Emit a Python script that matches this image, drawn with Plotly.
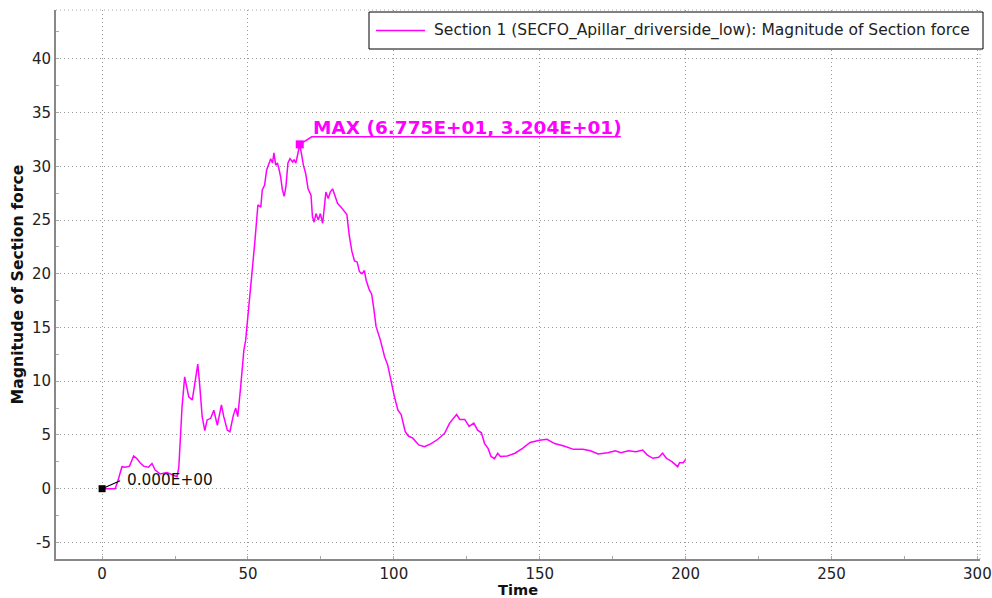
import plotly.graph_objects as go

# ---- data ----
time = [0, 4.5, 5.5, 6.8, 7.9, 9.4, 10.8, 11.9, 13.1, 14.2, 15.9, 17.1, 18.2, 19.95, 22.2,
        24.0, 25.7, 26.3, 27.4, 28.3, 29.1, 29.7, 30.9, 32.0, 32.8, 33.5, 34.3, 35.2, 36.0,
        37.2, 38.3, 39.5, 40.9, 41.7, 42.9, 43.8, 45.0, 45.8, 46.5, 47.5, 48.6, 49.2, 50.3,
        51.5, 52.3, 53.4, 54.4, 54.9, 55.7, 56.4, 57.2, 57.8, 58.4, 58.9, 59.5, 60.1, 60.7,
        61.2, 61.8, 62.4, 63.0, 63.7, 64.4, 65.3, 65.8, 66.4, 67.0, 67.75, 68.3, 69.0, 69.8,
        70.6, 71.6, 72.1, 72.7, 73.3, 74.1, 74.8, 75.6, 76.1, 76.7, 77.5, 78.2, 79.0, 79.8,
        80.7, 81.9, 83.0, 83.9, 84.7, 85.6, 86.5, 87.4, 88.2, 89.1, 89.9, 90.5, 91.6, 92.4,
        93.1, 93.9, 95.4, 96.8, 97.9, 99.1, 100.2, 101.4, 102.5, 103.9, 105.0, 106.5, 108.5,
        110.5, 112.8, 115.1, 117.4, 119.1, 120.2, 121.5, 122.6, 124.3, 125.8, 127.4, 128.7,
        130.0, 131.1, 132.3, 133.3, 134.5, 135.6, 136.5, 138.9, 141.5, 144.1, 146.7, 149.9,
        152.5, 155.1, 158.3, 161.6, 164.8, 167.4, 170.0, 173.3, 175.9, 177.8, 180.4, 183.0,
        185.3, 186.9, 188.8, 190.8, 192.1, 193.4, 195.3, 197.3, 197.9, 199.2, 200.0]
force = [0.0, 0.0, 0.8, 2.05, 2.0, 2.1, 3.04, 2.8, 2.4, 2.1, 2.0, 2.35, 1.74, 1.37, 1.5,
         1.27, 1.12, 2.0, 7.6, 10.4, 9.5, 8.55, 8.25, 10.4, 11.6, 9.5, 6.7, 5.4, 6.4,
         6.55, 7.3, 5.9, 7.8, 6.7, 5.45, 5.3, 6.85, 7.5, 6.7, 9.5, 12.9, 13.8, 16.8,
         20.0, 22.8, 26.4, 26.2, 27.8, 28.25, 29.65, 30.3, 30.7, 30.3, 31.25, 30.1, 30.3, 29.65,
         29.0, 27.8, 27.2, 28.1, 30.3, 30.7, 30.4, 30.6, 30.3, 31.05, 32.04, 31.2, 30.1, 29.3,
         27.9, 27.3, 25.3, 24.8, 25.6, 25.0, 25.6, 24.7, 26.2, 27.6, 27.0, 27.6, 27.9, 27.2,
         26.55, 26.2, 25.8, 25.5, 23.6, 22.1, 21.2, 21.1, 20.2, 20.0, 20.3, 19.4, 18.5, 18.1,
         16.8, 15.1, 13.8, 12.3, 11.5, 9.8, 8.55, 7.3, 6.9, 5.3, 4.9, 4.7, 4.07,
         3.9, 4.2, 4.6, 5.15, 6.1, 6.5, 6.9, 6.45, 6.45, 5.8, 6.1, 5.45,
         5.2, 4.2, 3.75, 3.0, 2.8, 3.3, 3.0, 3.05, 3.3, 3.75, 4.3, 4.5,
         4.6, 4.2, 3.97, 3.66, 3.66, 3.53, 3.23, 3.35, 3.53, 3.35, 3.53, 3.44,
         3.6, 3.13, 2.83, 2.92, 3.3, 2.83, 2.51, 2.05, 2.42, 2.42, 2.73]

series_name = "Section 1 (SECFO_Apillar_driverside_low): Magnitude of Section force"
x_title = "Time"
y_title = "Magnitude of Section force"
x_ticks = [0, 50, 100, 150, 200, 250, 300]
x_tick_labels = ["0", "50", "100", "150", "200", "250", "300"]
y_ticks = [-5, 0, 5, 10, 15, 20, 25, 30, 35, 40]
y_tick_labels = ["-5", "0", "5", "10", "15", "20", "25", "30", "35", "40"]

MAGENTA = "#ff00ff"
FONT = "DejaVu Sans"

# page / plot-area geometry (pixels)
W, H = 992, 598
ML, MR, MT, MB = 56, 12, 10, 39
PW, PH = W - ML - MR, H - MT - MB


def px_x(px):
    return (px - ML) / PW


def px_y(py):
    return (H - MB - py) / PH


imax = max(range(len(force)), key=lambda i: force[i])
t_max, f_max = time[imax], force[imax]
t0, f0 = time[0], force[0]

fig = go.Figure()
fig.add_trace(go.Scatter(x=time, y=force, mode="lines", name=series_name, showlegend=False,
                         line=dict(color=MAGENTA, width=1.5)))
fig.add_trace(go.Scatter(x=[t_max], y=[f_max], mode="markers", showlegend=False,
                         marker=dict(symbol="square", size=8, color=MAGENTA)))
fig.add_trace(go.Scatter(x=[t0], y=[f0], mode="markers", showlegend=False,
                         marker=dict(symbol="square", size=7, color="black")))

# leader lines anchored at the data points (pixel offsets)
fig.add_shape(type="path", xref="x", yref="y", xsizemode="pixel", ysizemode="pixel",
              xanchor=t_max, yanchor=f_max, path="M0,0 L12,7.5 L321,7.5",
              line=dict(color=MAGENTA, width=1.5))
fig.add_shape(type="path", xref="x", yref="y", xsizemode="pixel", ysizemode="pixel",
              xanchor=t0, yanchor=f0, path="M0,0 L18,8",
              line=dict(color="black", width=1.2))

fig.add_annotation(x=t_max, y=f_max, xref="x", yref="y", showarrow=False,
                   text=f"<b>MAX ({t_max:.3E}, {f_max:.3E})</b>", xanchor="left", yanchor="middle",
                   xshift=11, yshift=17, font=dict(family=FONT, size=18.5, color=MAGENTA))
fig.add_annotation(x=t0, y=f0, xref="x", yref="y", showarrow=False,
                   text=f"{f0:.3E}", xanchor="left", yanchor="middle",
                   xshift=23, yshift=9, font=dict(family=FONT, size=15.3, color="#111"))

# dotted frame on top and right edges
fig.add_shape(type="line", xref="paper", yref="paper", x0=0, x1=1, y0=1, y1=1,
              line=dict(color="#aaaaaa", width=1, dash="1px,3px"))
fig.add_shape(type="line", xref="paper", yref="paper", x0=1, x1=1, y0=0, y1=1,
              line=dict(color="#aaaaaa", width=1, dash="1px,3px"))

# legend box (drawn to match the reference layout)
fig.add_shape(type="rect", xref="paper", yref="paper",
              x0=px_x(369), x1=px_x(983), y0=px_y(49), y1=px_y(12),
              fillcolor="white", line=dict(color="black", width=1), layer="above")
fig.add_shape(type="line", xref="paper", yref="paper",
              x0=px_x(376), x1=px_x(425), y0=px_y(30.5), y1=px_y(30.5),
              line=dict(color=MAGENTA, width=1.5), layer="above")
fig.add_annotation(xref="paper", yref="paper", x=px_x(432), y=px_y(30.5), showarrow=False,
                   text=series_name, xanchor="left", yanchor="middle",
                   font=dict(family=FONT, size=15.5, color="#222"))

axis_common = dict(
    showgrid=True, gridcolor="#999999", gridwidth=1, griddash="1px,3px",
    zeroline=False, showline=True, linecolor="#888888", linewidth=2,
    ticks="", tickfont=dict(family=FONT, size=15, color="#222"),
)

fig.update_xaxes(range=[-15.8, 300.9], tickvals=x_ticks, ticktext=x_tick_labels, **axis_common,
                 minor=dict(ticks="inside", ticklen=3, tickcolor="#aaaaaa", showgrid=False,
                            dtick=25, tick0=0),
                 title=dict(text=f"<b>{x_title}</b>", font=dict(family=FONT, size=14.6, color="#111"),
                            standoff=4))
fig.update_yaxes(range=[-6.54, 44.54], tickvals=y_ticks, ticktext=y_tick_labels, **axis_common,
                 minor=dict(ticks="inside", ticklen=3, tickcolor="#aaaaaa", showgrid=False,
                            dtick=2.5, tick0=0),
                 title=dict(text=f"<b>{y_title}</b>", font=dict(family=FONT, size=15.7, color="#111"),
                            standoff=4))

fig.update_layout(
    width=W, height=H,
    margin=dict(l=ML, r=MR, t=MT, b=MB, autoexpand=False),
    paper_bgcolor="white", plot_bgcolor="white",
    font=dict(family=FONT, size=15, color="#222"),
    showlegend=False,
)

fig.write_html("out.html", config={"displayModeBar": False},
               post_script="document.body.style.margin='0px';")
